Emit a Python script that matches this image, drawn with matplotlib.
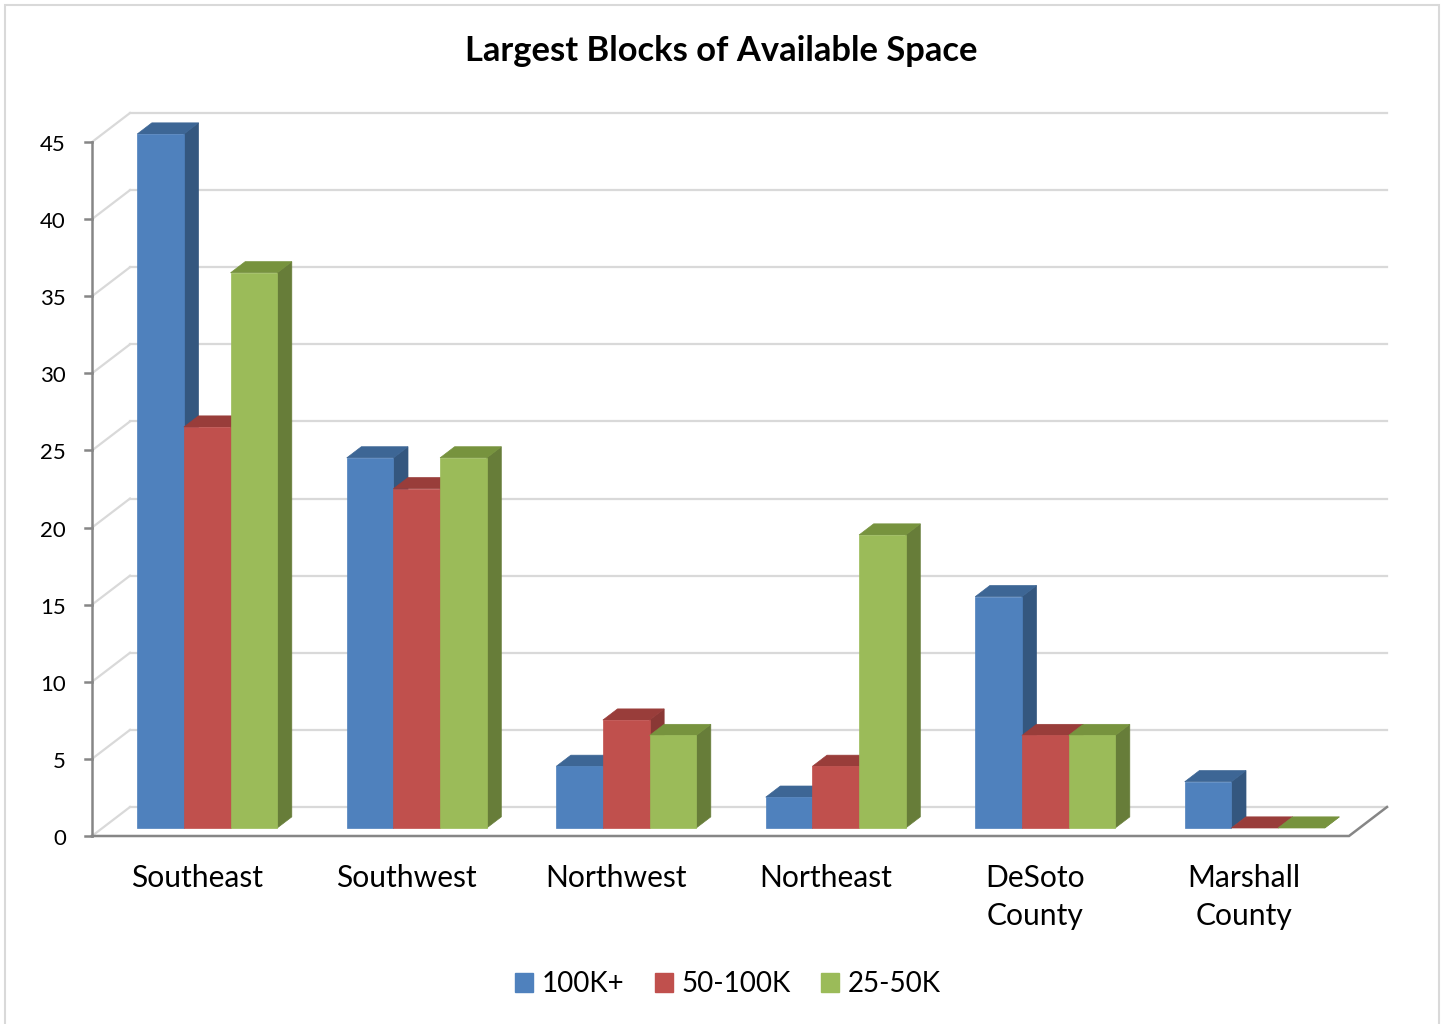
import matplotlib
matplotlib.use('Agg')
import matplotlib.pyplot as plt
from matplotlib.patches import Polygon, Rectangle
import numpy as np

plt.rcParams['font.family'] = ['Lato', 'DejaVu Sans']

categories = ['Southeast', 'Southwest', 'Northwest', 'Northeast', 'DeSoto\nCounty', 'Marshall\nCounty']
series_names = ['100K+', '50-100K', '25-50K']
s_100k = [45, 24, 4, 2, 15, 3]
s_50_100k = [26, 22, 7, 4, 6, 0]
s_25_50k = [36, 24, 6, 19, 6, 0]
y_ticks = [0, 5, 10, 15, 20, 25, 30, 35, 40, 45]

# front / top / side shades for each series
front_colors = ['#4F81BD', '#C0504D', '#9BBB59']
top_colors = ['#3D6695', '#993D3A', '#77933E']
side_colors = ['#34577F', '#8A3835', '#677D39']

W, H = 1443, 1024
fig = plt.figure(figsize=(W / 100, H / 100), dpi=100)

# pixel layout of the plot floor
x0_px, x1_px = 92, 1349
y0_px, y45_px = 836, 142
sx = (x1_px - x0_px) / len(categories)   # px per category slot
sy = (y0_px - y45_px) / 45.0             # px per value unit

ax = fig.add_axes([0, 0, 1, 1])
ax.set_xlim(-x0_px / sx, (W - x0_px) / sx)
ax.set_ylim(-(H - y0_px) / sy, y0_px / sy)
ax.axis('off')

# depth offset of the back wall, in data units
DX = 38 / sx
DY = 29 / sy
n = len(categories)

# outer chart border
fig.patches.append(Rectangle((5 / W, -0.01), 1434 / W, 1 - 5 / H + 0.01,
                             transform=fig.transFigure, fill=False,
                             edgecolor='#D9D9D9', lw=1.5))

grid_c = '#D9D9D9'
for v in y_ticks:
    ax.plot([DX, n + DX], [v + DY, v + DY], color=grid_c, lw=1.6, zorder=1)
    ax.plot([0, DX], [v, v + DY], color=grid_c, lw=1.6, zorder=1)

# floor front edge and right edge
axis_c = '#868686'
ax.plot([0, n, n + DX], [0, 0, DY], color=axis_c, lw=1.8, zorder=2,
        solid_joinstyle='miter')
# vertical value axis with ticks
ax.plot([0, 0], [0, 45], color=axis_c, lw=1.8, zorder=2)
tick_len = 7 / sx
for v in y_ticks:
    ax.plot([-tick_len, 0], [v, v], color=axis_c, lw=1.8, zorder=2)
    ax.text(-26 / sx, v - 3 / sy, str(v), ha='right', va='center', fontsize=16)

# bars
gap = 0.166
bw = (1 - 2 * gap) / 3
z0, z1 = 0.276, 0.66
series = [s_100k, s_50_100k, s_25_50k]
z = 3
for i in range(n):
    for j, vals in enumerate(series):
        v = vals[i]
        left = i + gap + j * bw + z0 * DX
        right = left + bw
        base = z0 * DY
        top = v + base
        ddx = (z1 - z0) * DX
        ddy = (z1 - z0) * DY
        side = [(right, base), (right + ddx, base + ddy),
                (right + ddx, top + ddy), (right, top)]
        lid = [(left, top), (left + ddx, top + ddy),
               (right + ddx, top + ddy), (right, top)]
        ax.add_patch(Polygon(side, closed=True, facecolor=side_colors[j],
                             edgecolor=side_colors[j], lw=0.5, zorder=z))
        ax.add_patch(Polygon(lid, closed=True, facecolor=top_colors[j],
                             edgecolor=top_colors[j], lw=0.5, zorder=z + 1))
        if v > 0:
            ax.bar(left, v, width=bw, bottom=base, align='edge',
                   color=front_colors[j], edgecolor=front_colors[j],
                   lw=0.5, zorder=z + 2)
        z += 3

# category labels
for i, c in enumerate(categories):
    ax.text(i + 0.5, -(864 - y0_px) / sy, c, ha='center', va='top',
            fontsize=21.6, linespacing=1.42)

fig.text(721 / W, 1 - 51 / H, 'Largest Blocks of Available Space',
         ha='center', va='center', fontsize=24.8, fontweight='bold')

handles = [Rectangle((0, 0), 1, 1, color=c) for c in front_colors]
fig.legend(handles, series_names, loc='center', bbox_to_anchor=(728 / W, 1 - 984 / H),
           ncol=3, frameon=False, fontsize=20, handlelength=0.65, handleheight=0.65,
           handletextpad=0.3, columnspacing=1.1)

fig.savefig('out.png', dpi=100)
